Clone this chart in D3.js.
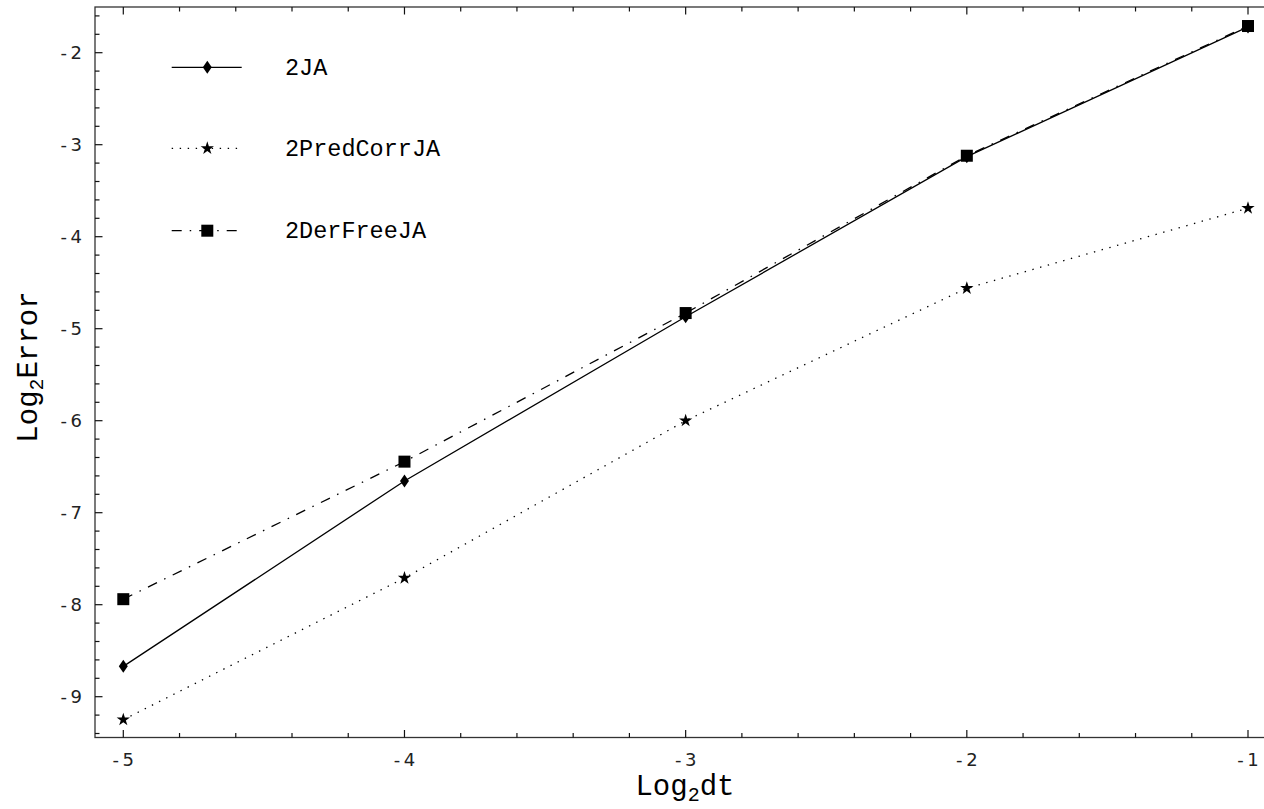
<!DOCTYPE html>
<html>
<head>
<meta charset="utf-8">
<script src="https://cdn.jsdelivr.net/npm/d3@7"></script>
<style>
  body { margin: 0; background: #fff; }
  .tick-label { font-family: "DejaVu Sans", sans-serif; font-size: 18px; fill: #222; }
  .axis-title, .legend-text { font-family: "Courier New", "Liberation Mono", monospace; fill: #000; }
</style>
</head>
<body>
<div id="chart"></div>
<script>
// data
var log2dt = [-5, -4, -3, -2, -1];
var err2JA = [-8.67, -6.655, -4.87, -3.13, -1.72];
var err2PredCorrJA = [-9.25, -7.71, -6.0, -4.56, -3.69];
var err2DerFreeJA = [-7.94, -6.445, -4.83, -3.12, -1.71];
var seriesNames = ["2JA", "2PredCorrJA", "2DerFreeJA"];
var xMajorTicks = [-5, -4, -3, -2, -1];
var yMajorTicks = [-9, -8, -7, -6, -5, -4, -3, -2];

var W = 1264, H = 809;
var frame = {left: 95, top: 7, right: 1266, bottom: 737.5};

var x = d3.scaleLinear().domain([-5, -1]).range([123.3, 1248]);
var y = d3.scaleLinear().domain([-9, -2]).range([696.7, 52.7]);

var svg = d3.select("#chart").append("svg")
  .attr("width", W).attr("height", H);

// frame
svg.append("rect")
  .attr("x", frame.left).attr("y", frame.top)
  .attr("width", frame.right - frame.left).attr("height", frame.bottom - frame.top)
  .attr("fill", "none").attr("stroke", "#333").attr("stroke-width", 1.3);

// ticks, every 0.2 units, major ones longer
var xMinor = d3.range(-5.2, -0.7, 0.2).map(v => +v.toFixed(1)).filter(v => x(v) > frame.left && x(v) < frame.right);
var yMinor = d3.range(-9.6, -1.3, 0.2).map(v => +v.toFixed(1)).filter(v => y(v) > frame.top && y(v) < frame.bottom);
var isMajor = v => Math.abs(v - Math.round(v)) < 1e-6;

var ticks = svg.append("g").attr("stroke", "#111").attr("stroke-width", 1.2);
ticks.selectAll(".xb").data(xMinor).join("line")
  .attr("x1", d => x(d)).attr("x2", d => x(d))
  .attr("y1", frame.bottom).attr("y2", d => frame.bottom - (isMajor(d) ? 7.5 : 4.5));
ticks.selectAll(".xt").data(xMinor).join("line")
  .attr("x1", d => x(d)).attr("x2", d => x(d))
  .attr("y1", frame.top).attr("y2", d => frame.top + (isMajor(d) ? 7.5 : 4.5));
ticks.selectAll(".yl").data(yMinor).join("line")
  .attr("y1", d => y(d)).attr("y2", d => y(d))
  .attr("x1", frame.left).attr("x2", d => frame.left + (isMajor(d) ? 7.5 : 4.5));

// tick labels
svg.selectAll(".xl").data(xMajorTicks).join("text")
  .attr("class", "tick-label")
  .attr("x", d => x(d)).attr("y", 766)
  .attr("text-anchor", "middle")
  .text(d => "-\u2009" + Math.abs(d));
svg.selectAll(".yl").data(yMajorTicks).join("text")
  .attr("class", "tick-label")
  .attr("x", 82).attr("y", d => y(d) + 6.5)
  .attr("text-anchor", "end")
  .text(d => "-\u2009" + Math.abs(d));

// axis titles
var xt = svg.append("text").attr("class", "axis-title")
  .attr("x", 685).attr("y", 795).attr("text-anchor", "middle")
  .attr("font-size", 29);
xt.append("tspan").text("Log");
xt.append("tspan").attr("font-size", 20).attr("dy", 6).text("2");
xt.append("tspan").attr("dy", -6).text("dt");

var yt = svg.append("text").attr("class", "axis-title")
  .attr("transform", "translate(37,367) rotate(-90)")
  .attr("text-anchor", "middle").attr("font-size", 29);
yt.append("tspan").text("Log");
yt.append("tspan").attr("font-size", 20).attr("dy", 6).text("2");
yt.append("tspan").attr("dy", -6).text("Error");

// series
var styles = [
  {vals: err2JA, dash: null, marker: "diamond"},
  {vals: err2PredCorrJA, dash: "1.4,6.6", marker: "star"},
  {vals: err2DerFreeJA, dash: "10,8,1.5,8", marker: "square"}
];

var line = d3.line().x(d => x(d[0])).y(d => y(d[1]));

function marker(g, type, cx, cy) {
  if (type === "diamond") {
    g.append("path").attr("d", `M${cx},${cy-6.5}L${cx+4.5},${cy}L${cx},${cy+6.5}L${cx-4.5},${cy}Z`).attr("fill", "#000");
  } else if (type === "square") {
    g.append("rect").attr("x", cx - 6).attr("y", cy - 6).attr("width", 12).attr("height", 12).attr("fill", "#000");
  } else {
    var sym = d3.symbol().type(d3.symbolStar).size(55);
    g.append("path").attr("d", sym()).attr("transform", `translate(${cx},${cy})`).attr("fill", "#000");
  }
}

var plot = svg.append("g");
styles.forEach(s => {
  var pts = log2dt.map((v, i) => [v, s.vals[i]]);
  plot.append("path").attr("d", line(pts))
    .attr("fill", "none").attr("stroke", "#000").attr("stroke-width", 1.3)
    .attr("stroke-dasharray", s.dash);
  var mg = plot.append("g");
  pts.forEach(p => marker(mg, s.marker, x(p[0]), y(p[1])));
});

// legend
var legendY = [67.3, 148.3, 230.7];
var leg = svg.append("g");
styles.forEach((s, i) => {
  var ly = legendY[i];
  leg.append("line").attr("x1", 171.7).attr("x2", 241.7).attr("y1", ly).attr("y2", ly)
    .attr("stroke", "#000").attr("stroke-width", 1.3).attr("stroke-dasharray", s.dash);
  marker(leg, s.marker, 207.3, ly);
  leg.append("text").attr("class", "legend-text")
    .attr("x", 285).attr("y", ly + 7.5).attr("font-size", 23.5)
    .text(seriesNames[i]);
});
</script>
</body>
</html>
